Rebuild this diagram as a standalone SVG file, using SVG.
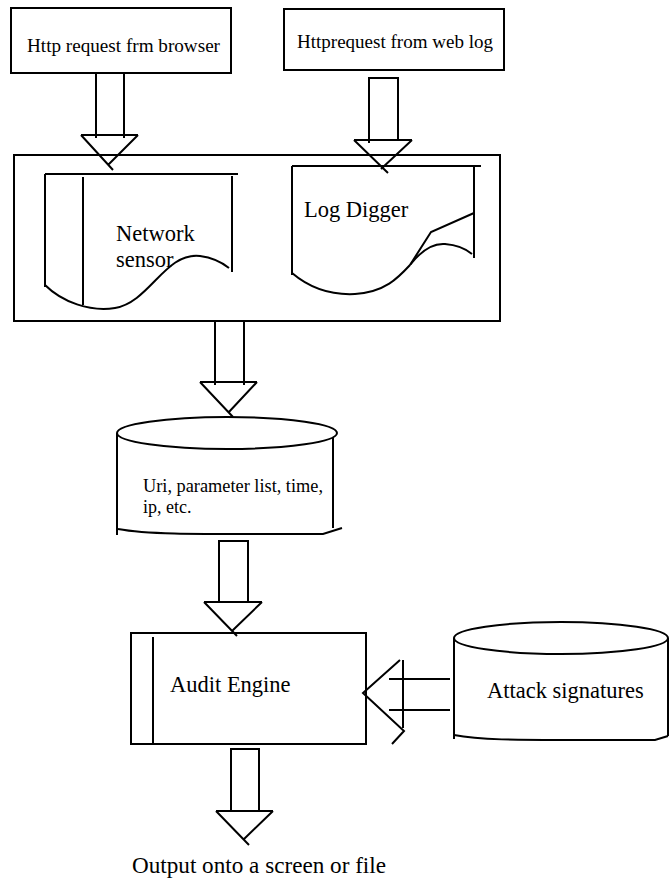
<svg xmlns="http://www.w3.org/2000/svg" width="670" height="883" viewBox="0 0 670 883">
  <style>
    .ln { fill: none; stroke: #000; stroke-width: 2; stroke-linejoin: miter; }
    .bx { fill: #fff; stroke: #000; stroke-width: 2; }
    .t { font-family: "Liberation Serif", "Times New Roman", serif; fill: #000; }
  </style>
  <rect width="670" height="883" fill="#fff"/>

  <!-- sources -->
  <g id="browser-request">
    <rect class="bx" x="11" y="8" width="220" height="65"/>
    <text class="t" font-family="Liberation Serif, serif" font-size="19" x="27" y="52" textLength="193" lengthAdjust="spacingAndGlyphs">Http request frm browser</text>
  </g>
  <g id="weblog-request">
    <rect class="bx" x="284" y="9" width="220" height="61"/>
    <text class="t" font-family="Liberation Serif, serif" font-size="19" x="297" y="48" textLength="196" lengthAdjust="spacingAndGlyphs">Httprequest from web log</text>
  </g>

  <!-- capture stage -->
  <g id="capture">
    <rect class="bx" x="14" y="155" width="486" height="166"/>
  </g>
  <g id="network-sensor">
    <path class="ln" d="M45,174 H238 M45,174 V287 M232,176 V272 M83,177 V305"/>
    <path class="ln" d="M45,285 C62,302 90,312 115,308 C150,302 165,252 200,256 C215,258 224,264 229,268"/>
    <text class="t" font-family="Liberation Serif, serif" font-size="22.5" x="116" y="241">Network</text>
    <text class="t" font-family="Liberation Serif, serif" font-size="22.5" x="116" y="267">sensor</text>
  </g>
  <g id="log-digger">
    <path class="ln" d="M292,166 H481 M292,166 V275 M474,166 V258"/>
    <path class="ln" d="M292,273 C312,290 335,295 355,294 C385,292 398,278 410,265"/>
    <path class="ln" d="M410,265 L431,232 L474,213"/>
    <path class="ln" d="M410,265 C420,252 432,243 445,244 C458,245 466,249 472,254"/>
    <text class="t" font-family="Liberation Serif, serif" font-size="22.5" x="304" y="217">Log Digger</text>
  </g>

  <!-- request store -->
  <g id="request-store">
    <path class="ln" d="M117,433 V535 M333,433 V528"/>
    <path class="ln" d="M118,529 C150,535 200,534 323,534 L342,528"/>
    <ellipse class="bx" cx="227" cy="433" rx="110" ry="16"/>
    <text class="t" font-family="Liberation Serif, serif" font-size="18" x="143" y="492" textLength="180" lengthAdjust="spacingAndGlyphs">Uri, parameter list, time,</text>
    <text class="t" font-family="Liberation Serif, serif" font-size="18" x="143" y="513">ip, etc.</text>
  </g>

  <!-- audit engine -->
  <g id="audit-engine">
    <rect class="bx" x="131" y="633" width="235" height="111"/>
    <path class="ln" d="M153,637 V744"/>
    <text class="t" font-family="Liberation Serif, serif" font-size="22.5" x="170" y="692">Audit Engine</text>
  </g>

  <!-- signature store -->
  <g id="attack-signatures">
    <path class="ln" d="M454,638 V739 M668,638 V736"/>
    <path class="ln" d="M454,735 C480,740 520,740 560,740 L655,740 L668,736"/>
    <ellipse class="bx" cx="561" cy="638" rx="107" ry="16"/>
    <text class="t" font-family="Liberation Serif, serif" font-size="22.5" x="487" y="698">Attack signatures</text>
  </g>

  <!-- block arrows -->
  <g id="connectors">
    <!-- browser to sensor -->
    <path class="ln" d="M96,73 V138 M124,73 V138"/>
    <path class="ln" d="M81,135 H138 M81,135 L113,170 M138,135 L108,165"/>
    <!-- web log to digger -->
    <path class="ln" d="M369,143 V78 H398 V140"/>
    <path class="ln" d="M354,140 H412 M354,140 L388,173 M412,140 L381,169"/>
    <!-- capture to store -->
    <path class="ln" d="M215,322 V385 M244,322 V385"/>
    <path class="ln" d="M200,382 H257 M200,382 L233,417 M257,382 L228,413"/>
    <!-- store to engine -->
    <path class="ln" d="M219,603 V541 H248 V603"/>
    <path class="ln" d="M204,602 H262 M204,602 L237,636 M262,602 L232,631"/>
    <!-- signatures to engine -->
    <path class="ln" d="M389,679 H450 M389,710 H450"/>
    <path class="ln" d="M403,660 V728 M400,660 L363,693 L404,731 L392,744"/>
    <!-- engine to output -->
    <path class="ln" d="M231,812 V749 H259 V812"/>
    <path class="ln" d="M216,811 H273 M216,811 L249,845 M273,811 L243,840"/>
  </g>

  <text id="output-label" class="t" font-family="Liberation Serif, serif" font-size="23" x="132" y="873" textLength="254" lengthAdjust="spacingAndGlyphs">Output onto a screen or file</text>
</svg>
